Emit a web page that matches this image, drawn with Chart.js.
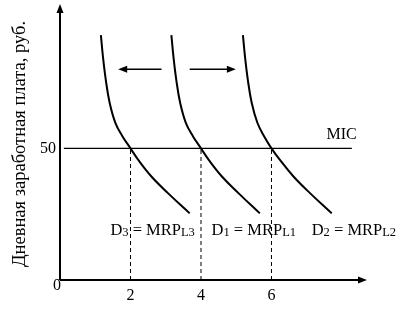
<!DOCTYPE html>
<html>
<head>
<meta charset="utf-8">
<script src="https://cdn.jsdelivr.net/npm/chart.js@4"></script>
<style>
  html, body { margin: 0; padding: 0; background: #fff; }
</style>
</head>
<body>
<canvas id="chart" width="408" height="311"></canvas>
<script>
// demand for labour curves: wage (rub/day) against number of workers
const d3X = [1.16, 1.22, 1.30, 1.41, 1.57, 1.77, 2.0, 2.22, 2.60, 3.07, 3.68];
const d3Y = [93, 84.6, 75.9, 67.2, 59.7, 54.6, 50, 45.6, 39.2, 32.9, 25.3];
const d1X = [3.16, 3.22, 3.30, 3.41, 3.57, 3.77, 4.0, 4.22, 4.60, 5.07, 5.67];
const d1Y = [93, 84.6, 75.9, 67.2, 59.7, 54.6, 50, 45.6, 39.2, 32.9, 25.3];
const d2X = [5.19, 5.25, 5.33, 5.44, 5.60, 5.79, 6.0, 6.24, 6.63, 7.10, 7.71];
const d2Y = [93, 84.6, 75.9, 67.2, 59.7, 54.6, 50, 45.6, 39.2, 32.9, 25.3];

const micWage = 50;
const micX = [0.11, 8.28];
const equilibriumX = [2, 4, 6];

const xTicks = [2, 4, 6];
const yTicks = [50];

// D label: letter, index, MRP, index
const curveLabels = [
  { x: 1.43, y: 19.4, parts: ['D', '3', ' = MRP', 'L3'] },
  { x: 4.30, y: 19.4, parts: ['D', '1', ' = MRP', 'L1'] },
  { x: 7.14, y: 19.4, parts: ['D', '2', ' = MRP', 'L2'] }
];
const micLabel = { x: 7.56, y: 55, text: 'MIC' };
const shiftArrows = [
  { from: 2.88, to: 1.65, y: 80 },
  { from: 3.68, to: 4.99, y: 80 }
];
const yTitle = 'Дневная заработная плата, руб.';

const serif = '"Liberation Serif", "Times New Roman", serif';

function pts(xs, ys) {
  return xs.map((v, i) => ({ x: v, y: ys[i] }));
}

function curve(xs, ys) {
  return {
    data: pts(xs, ys),
    showLine: true,
    borderColor: '#000',
    borderWidth: 2,
    pointRadius: 0,
    tension: 0.4
  };
}

const dashed = equilibriumX.map(v => ({
  data: [{ x: v, y: 0 }, { x: v, y: micWage }],
  showLine: true,
  borderColor: '#000',
  borderWidth: 1,
  borderDash: [4, 3],
  pointRadius: 0
}));

function head(ctx, tx, ty, dx, dy, len, half) {
  const px = -dy, py = dx;
  ctx.beginPath();
  ctx.moveTo(tx, ty);
  ctx.lineTo(tx - dx * len + px * half, ty - dy * len + py * half);
  ctx.lineTo(tx - dx * len - px * half, ty - dy * len - py * half);
  ctx.closePath();
  ctx.fill();
}

const extras = {
  id: 'extras',
  afterDraw(chart) {
    const { ctx } = chart;
    const xs = chart.scales.x, ys = chart.scales.y;
    const x0 = xs.getPixelForValue(0), y0 = ys.getPixelForValue(0);
    const xEnd = xs.getPixelForValue(xs.max), yEnd = ys.getPixelForValue(ys.max);
    ctx.save();
    ctx.strokeStyle = '#000';
    ctx.fillStyle = '#000';

    // axes with arrow heads
    ctx.lineWidth = 2;
    ctx.beginPath();
    ctx.moveTo(x0, y0);
    ctx.lineTo(x0, yEnd + 6);
    ctx.moveTo(x0, y0);
    ctx.lineTo(xEnd - 6, y0);
    ctx.stroke();
    head(ctx, x0, yEnd, 0, -1, 9, 3.5);
    head(ctx, xEnd, y0, 1, 0, 9, 3.5);

    // shift arrows
    ctx.lineWidth = 1.5;
    shiftArrows.forEach(a => {
      const ay = ys.getPixelForValue(a.y);
      const fx = xs.getPixelForValue(a.from), tx = xs.getPixelForValue(a.to);
      const dir = tx > fx ? 1 : -1;
      ctx.beginPath();
      ctx.moveTo(fx, ay);
      ctx.lineTo(tx - dir * 6, ay);
      ctx.stroke();
      head(ctx, tx, ay, dir, 0, 9, 3.5);
    });

    // curve labels with subscripts
    ctx.textBaseline = 'alphabetic';
    ctx.textAlign = 'left';
    curveLabels.forEach(l => {
      let cx = xs.getPixelForValue(l.x);
      const base = ys.getPixelForValue(l.y) + 6;
      l.parts.forEach((p, i) => {
        const sub = i % 2 === 1;
        ctx.font = (sub ? '12.5px ' : '16.5px ') + serif;
        ctx.fillText(p, cx, base + (sub ? 1 : 0));
        cx += ctx.measureText(p).width;
      });
    });

    ctx.font = '16px ' + serif;
    ctx.textBaseline = 'middle';
    ctx.fillText(micLabel.text, xs.getPixelForValue(micLabel.x), ys.getPixelForValue(micLabel.y));

    // origin
    ctx.textAlign = 'center';
    ctx.fillText('0', x0 - 3, y0 + 6);

    // y axis title
    ctx.translate(20, 144);
    ctx.rotate(-Math.PI / 2);
    ctx.font = '18.5px ' + serif;
    ctx.fillText(yTitle, 0, 0);
    ctx.restore();
  }
};

new Chart(document.getElementById('chart'), {
  type: 'scatter',
  data: {
    datasets: [
      curve(d3X, d3Y),
      curve(d1X, d1Y),
      curve(d2X, d2Y),
      {
        data: micX.map(v => ({ x: v, y: micWage })),
        showLine: true,
        borderColor: '#000',
        borderWidth: 1.2,
        pointRadius: 0
      },
      ...dashed
    ]
  },
  options: {
    responsive: false,
    animation: false,
    layout: { padding: { top: 4, right: 41, left: 0, bottom: 0 } },
    plugins: { legend: { display: false }, tooltip: { enabled: false } },
    scales: {
      x: {
        type: 'linear',
        min: 0,
        max: 8.71,
        afterFit: s => { s.height = 31; s.paddingLeft = 0; s.paddingRight = 0; },
        afterBuildTicks: s => { s.ticks = xTicks.map(v => ({ value: v })); },
        grid: { display: false, drawTicks: false },
        border: { display: false },
        ticks: { color: '#000', padding: 6, font: { family: serif, size: 16 } }
      },
      y: {
        type: 'linear',
        min: 0,
        max: 104.8,
        afterFit: s => { s.width = 60; s.paddingTop = 0; s.paddingBottom = 0; },
        afterBuildTicks: s => { s.ticks = yTicks.map(v => ({ value: v })); },
        grid: { display: false, drawTicks: false },
        border: { display: false },
        ticks: { color: '#000', padding: 4, font: { family: serif, size: 16 } }
      }
    }
  },
  plugins: [extras]
});
</script>
</body>
</html>
